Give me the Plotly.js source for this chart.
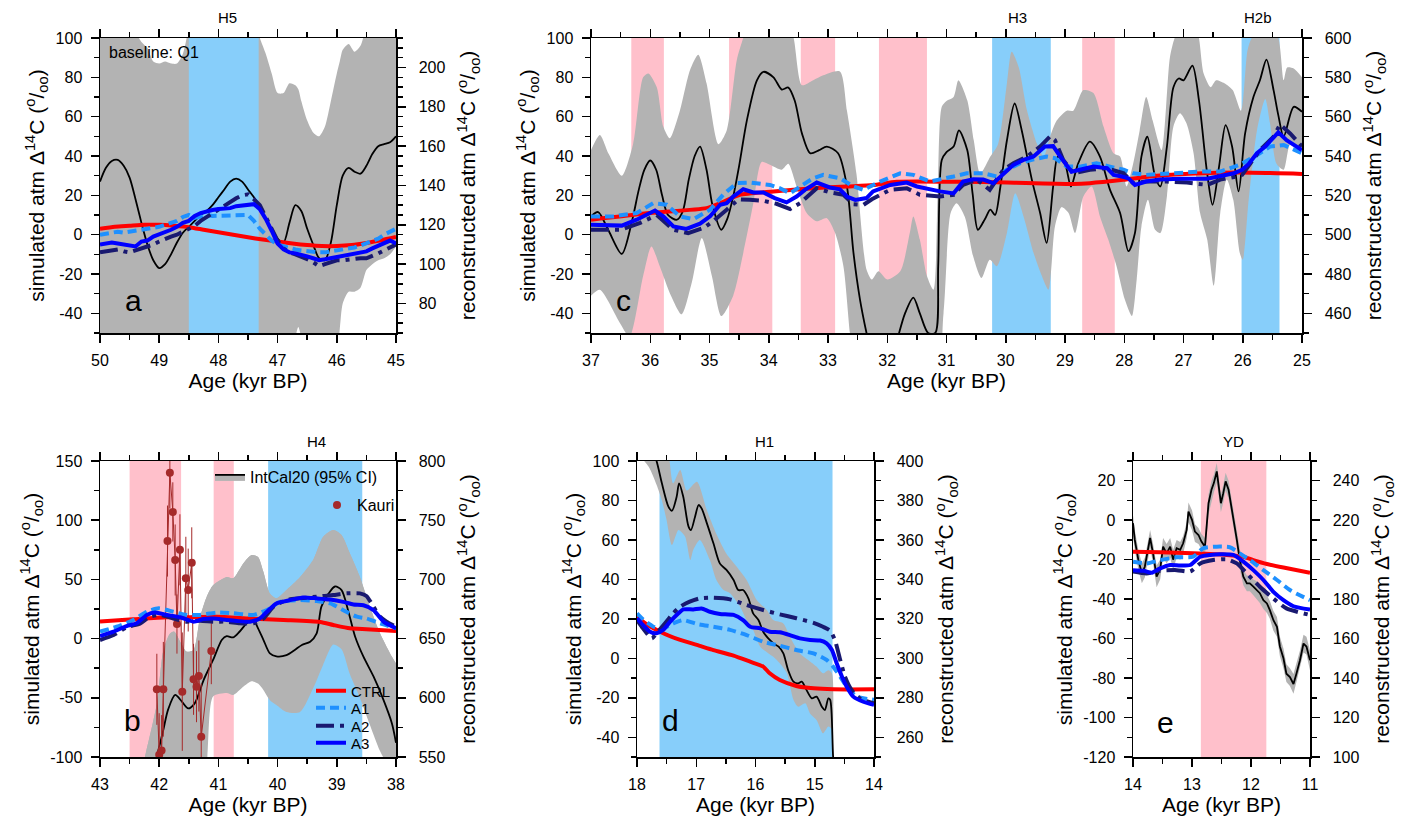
<!DOCTYPE html>
<html><head><meta charset="utf-8">
<script src="https://cdn.plot.ly/plotly-3.0.1.min.js"></script>
<style>html,body{margin:0;padding:0;background:#fff;}#chart{width:1407px;height:823px;}</style>
</head><body><div id="chart"></div>
<script>
// ---------------- DATA ----------------
// Panel a (H5) : IntCal20 in reconstructed units, simulations in simulated units
const aAgeIC = [50.0,49.9,49.8,49.7,49.6,49.5,49.4,49.3,49.2,49.1,49.0,48.9,48.8,48.7,48.6,48.5,48.4,48.3,48.2,48.1,48.0,47.9,47.8,47.7,47.6,47.5,47.4,47.3,47.2,47.1,47.0,46.9,46.8,46.7,46.6,46.5,46.4,46.3,46.2,46.1,46.0,45.9,45.8,45.7,45.6,45.5,45.4,45.3,45.2,45.1,45.0];
const aIC = [142,149,152.5,153,150,144,133,121,110,102,98,100,105,111,116,119,122,125,127,130,134,138,142,143.5,142,138,134,129,123,118,113,111,121,130,127,118,110,103,102,111,130,145,149,147,146,150,156,160,161,162,165];
const aBandAge = [50,49.8,49.7,49.6,49.5,49.4,49.3,49.2,49.1,49.0,48.9,48.8,48.7,48.6,48.5,48.4,48.0,47.6,47.5,47.4,47.3,47.2,47.1,47.0,46.9,46.8,46.7,46.65,46.6,46.5,46.4,46.3,46.2,46.1,46.0,45.95,45.9,45.8,45.7,45.6,45.5,45.4,45.3,45.2,45.1,45.0];
const aBandHi = [240,240,237,230,223,218,213,210,203,202,203,202,202,207,220,230,235,233,230,225,215,207,197,187,187,192,191,189,183,173,167,165,170,183,197,203,209,212,208,211,221,227,230,233,235,237];
const aBandLo = [55,55,55,55,55,55,55,55,55,55,55,55,55,55,55,55,55,55,55,55,55,55,55,55,55,55,63,68,63,55,55,55,55,55,55,67,80,86,86,88,97,100,102,103,105,109];
const aAgeSim = [50.0,49.9,49.8,49.7,49.6,49.5,49.4,49.3,49.2,49.1,49.0,48.9,48.8,48.7,48.6,48.5,48.4,48.3,48.2,48.1,48.0,47.9,47.8,47.7,47.6,47.5,47.4,47.3,47.2,47.1,47.0,46.9,46.8,46.7,46.6,46.5,46.4,46.3,46.2,46.1,46.0,45.9,45.8,45.7,45.6,45.5,45.4,45.3,45.2,45.1,45.0];
const aA1 = [0,0.5,1.5,1.5,1,1.5,2,2,3,3.5,4,5,6,7,9,10,8.5,9,10,9.5,9.5,9.5,9.5,9.5,10,10,7,3,0,-3,-5,-6,-7,-7.5,-8,-8.5,-9,-9,-9,-8.5,-8.5,-8,-7.5,-6.5,-5.5,-4.5,-3,-2,0,1.5,3];
const aA2 = [-9,-8.5,-7.5,-7.5,-8.5,-9,-8,-7,-6.5,-5,-3.5,-2,-1,0,1.5,2.5,4.5,7,9,10.5,12.5,14.5,16.5,18.5,20,20.5,18,15,9,3,-3,-7,-9,-10,-11,-12.5,-14,-16,-15,-14,-13,-13,-12.5,-12.5,-12,-12,-11,-9.5,-8,-6.5,-5];
const aA3 = [-5,-4.5,-4,-4.5,-5,-5.5,-6,-3.5,-3,-1,0,1,2.5,4,6,7,9.5,11,12,12.5,13,13,13.5,14.5,15,15.3,15.5,13,8,2,-4.5,-7.5,-9,-9.5,-10,-11,-12,-13,-12.5,-12,-11,-10.5,-10,-10,-9.5,-8.5,-7,-5.5,-4,-3,-4.5];
const aAgeCtrl = [50,49.75,49.5,49.25,49,48.75,48.5,48.25,48,47.75,47.5,47.25,47,46.75,46.5,46.25,46,45.75,45.5,45.25,45];
const aCtrl = [3,4,4.5,5,5,4.5,3.8,2.5,1.2,0,-1.3,-2.5,-3.5,-4.5,-5.3,-5.8,-5.8,-5.3,-4.2,-2.8,-1.2];
const aBlue = [[48.5, 47.32]];

// Panel c (H3, H2b)
const cAgeIC = [37.0,36.88,36.71,36.48,36.3,36.2,36.1,36.0,35.9,35.8,35.7,35.55,35.45,35.35,35.25,35.16,35.05,34.95,34.8,34.7,34.6,34.5,34.37,34.2,34.09,33.92,33.78,33.67,33.56,33.44,33.3,33.15,33.02,32.83,32.68,32.57,32.46,32.35,32.2,32.0,31.8,31.7,31.56,31.45,31.31,31.19,31.14,31.08,31.0,30.88,30.79,30.65,30.56,30.47,30.35,30.26,30.18,30.09,29.98,29.85,29.73,29.56,29.42,29.31,29.2,29.12,29.0,28.9,28.78,28.58,28.41,28.24,28.07,27.93,27.82,27.71,27.61,27.48,27.39,27.28,27.17,27.08,27.0,26.85,26.74,26.6,26.51,26.4,26.29,26.18,26.07,25.96,25.82,25.71,25.6,25.48,25.4,25.31,25.14,25.0];
const cIC = [509.3,511.5,502.5,490.2,508,522,533,537.7,533,520,510,507.6,512,528,540,544.8,533,515,502.5,508,519.4,535,558,578.5,582.8,580,573.8,574.8,568,551.5,541.4,543,544.8,541.4,524.5,490.7,467,450,430,425,450,460,468,460,450,450,484,538,542,544.8,553,543,521,502.5,508,512.7,510,524.5,548,566.7,553,528,511,495.8,524.5,539.7,536,524.5,536,547.3,539.7,522.8,511,491.6,500.8,539.7,549.8,529.6,524.5,544.8,575,579.4,578.5,586,568.4,531,515.2,534.6,555.7,544.8,522,551.5,570,578.5,589,573.5,560.8,549.8,565,562.5];
const cAgeHi = [37.0,36.85,36.7,36.48,36.29,36.12,36.03,35.89,35.78,35.67,35.5,35.33,35.19,35.05,34.85,34.71,34.54,34.43,34.3,33.7,33.58,33.44,33.25,33.08,32.8,32.68,32.52,32.35,32.26,32.15,32.0,31.78,31.62,31.56,31.45,31.33,31.22,31.15,31.08,31.0,30.88,30.8,30.65,30.54,30.43,30.26,30.13,29.98,29.9,29.78,29.64,29.47,29.36,29.25,29.14,28.97,28.86,28.69,28.52,28.35,28.18,28.07,27.96,27.85,27.74,27.63,27.52,27.37,27.23,27.15,27.0,26.8,26.74,26.66,26.54,26.45,26.31,26.17,26.03,25.92,25.85,25.6,25.4,25.31,25.25,25.14,25.0];
const cHi = [543,550.7,541,530,546,580,582,575,555,549,563,583.6,591.5,577,546,553,588.7,600,610,610,600,576,578.5,581,583,563,531,482.3,477.2,481.4,477.2,481.4,500.8,509.3,497.5,479,472,520,565,568,570,578.5,568.4,548,531,539.7,546,577,593,585,563,546,539.7,550,558,563,563,573.5,572,555,541.4,539.7,524.5,536,553,570,558,543,590,600,610,605,600,582,575,578.5,577,573.5,563,593.7,600,610,600,578.5,585,584.5,580];
const cAgeLo = [37.0,36.85,36.51,36.35,36.12,35.98,35.84,35.65,35.47,35.3,35.13,34.96,34.8,34.6,34.43,34.26,34.12,33.98,33.78,33.67,33.53,33.36,33.19,33.02,32.88,32.74,32.63,32.55,31.2,31.05,30.93,30.83,30.69,30.55,30.41,30.27,30.15,29.98,29.84,29.7,29.53,29.39,29.28,29.17,29.06,28.94,28.83,28.69,28.55,28.41,28.27,28.13,27.99,27.87,27.79,27.71,27.6,27.48,27.39,27.28,27.17,27.06,26.95,26.83,26.72,26.6,26.49,26.38,26.27,26.16,26.05,26.0,25.9,25.76,25.62,25.54,25.43,25.31,25.2,25.09,25.0];
const cLo = [469,472,455,448,479,494,484,469,459.5,475.5,498.3,479,458.6,469,490.7,516,537,535.5,533,536,524.5,511,506.8,508.4,500.8,484,450,430,430,460,511,516,509,489,478,487.3,484,500.8,521,509.3,490.7,479,472,504.2,514,511,500.8,519.4,524.5,509.3,497.5,484,467,458.6,477.2,504.2,517.7,502.5,500.8,519.4,555,561.7,556.6,541.4,511,497.5,474,511,528,517.7,490.7,487.3,517.7,553,569,556.6,536,533,546,544.8,543];
const cAgeCtrl = [37,36,35.05,34.82,34.49,33.92,33.25,32.68,32.24,31.84,30.77,29.98,28.86,28.58,28.02,27.45,26.89,26.05,25.0];
const cCtrl = [7.6,11,13.5,16,20.3,22,23.6,24.5,25.2,26.9,26.9,26.5,25.8,26.2,27.9,30,31,31.6,30.9];
const cAgeA1 = [37,36.62,36.23,35.95,35.72,35.5,35.27,34.99,34.77,34.54,34.32,33.98,33.81,33.64,33.47,33.25,33.08,32.8,32.57,32.4,32.12,31.78,31.56,31.28,30.88,30.66,30.38,30.15,29.98,29.76,29.53,29.31,29.17,28.97,28.75,28.47,28.24,28.01,27.85,27.63,27.17,26.72,26.38,26.05,25.76,25.54,25.31,25.0];
const cA1 = [9.3,9.3,11,16,15.2,9.3,7.9,12.7,20.3,26.2,26.5,25.3,23.6,21,24.5,28.7,30.4,28.7,24.5,22.8,27,31.2,30.4,27,29.6,31.2,31.2,29.6,33,36.3,38.3,39.7,38.9,34.6,34.6,36.3,34.6,33,31.2,30.4,31.2,32.1,32.1,35.5,40.5,44.8,45.6,41.4];
const cAgeA2 = [37,36.5,36.17,35.89,35.61,35.36,35.1,34.94,34.71,34.51,34.32,34.09,33.87,33.64,33.47,33.3,33.19,32.97,32.74,32.57,32.4,32.26,31.95,31.67,31.45,31.11,30.88,30.72,30.49,30.27,30.04,29.87,29.64,29.42,29.25,29.17,29.03,28.86,28.58,28.3,28.01,27.85,27.63,27.28,26.94,26.6,26.38,26.1,26.01,25.87,25.71,25.48,25.37,25.2,25.0];
const cA2 = [2.5,2.5,6,10,2.5,0.8,3.4,6.8,12.7,18,17.7,17.2,15.7,13,16,21,23.6,21.5,20.3,15.5,15.2,18,22.8,23.6,20.3,19.4,20.3,25.3,28,22.8,33,36.3,39.7,44.8,50,48,38,31.2,33,33.8,31.2,26.2,27,27,26.5,25.3,28,29.6,30.4,36.3,43,49.8,56,51.5,44.8];
const cAgeA3 = [37,36.48,36.23,35.92,35.78,35.61,35.39,35.16,34.99,34.82,34.71,34.6,34.43,34.26,34.09,33.9,33.7,33.53,33.39,33.19,32.97,32.8,32.68,32.54,32.35,32.24,31.95,31.67,31.5,31.28,31.11,30.88,30.72,30.55,30.38,30.21,30.04,29.87,29.7,29.53,29.34,29.2,29.08,28.89,28.75,28.63,28.52,28.29,28.18,28.04,27.93,27.82,27.63,27.39,27.06,26.6,26.43,26.15,26.01,25.9,25.76,25.62,25.4,25.26,25.0];
const cA3 = [5,4.6,7.6,12.3,9.3,4.2,2.9,5.6,9.3,15.2,16,19.4,23.1,21.5,21.5,18.6,16.4,19.4,22.8,26.5,24,23.1,19.4,17.7,18.6,22,25.3,26.5,24.5,22.8,22,21,27,28.2,28,26.2,31.2,35.5,38,39.7,44.8,45,39.7,32,33,33.8,34.6,33.8,30.4,29.6,28.7,25.3,27,28,28.4,28.4,29.6,31.2,33,36,41.4,44.8,52,48,43];
const cPink = [[36.32,35.77],[34.67,33.94],[33.46,32.88],[32.14,31.33],[28.71,28.16]];
const cBlue = [[30.23,29.24],[26.02,25.38]];

// Panel b (H4)
const bAgeIC = [42.1,42.04,41.93,41.85,41.73,41.62,41.51,41.4,41.25,41.09,40.94,40.86,40.75,40.64,40.52,40.41,40.33,40.24,40.13,40.02,39.85,39.71,39.59,39.45,39.34,39.26,39.14,39.03,38.92,38.81,38.69,38.55,38.38,38.21,38.07,38.0];
const bIC = [535,550,573,590,602.4,597,591,595.3,615,632,649,652,651,656,663,665.7,658.7,649,637.5,635,636,640.4,644.6,647.4,654.5,677,688,694,691,674,651.6,634.7,618,598,578.5,562];
const bBandAge = [42.3,42.24,42.04,41.93,41.82,41.75,41.62,41.54,41.42,41.31,41.2,41.09,40.86,40.75,40.58,40.44,40.33,40.24,40.13,40.02,39.85,39.62,39.4,39.23,39.06,38.92,38.78,38.61,38.44,38.27,38.1,38.0];
const bHi = [535,550,595,640,654,656,645,639,640.4,668,685,695,702,701,713.5,720.6,719,706.5,688,684,691,702,716.4,736,741.7,737.5,722,702,677,654.5,637.5,629];
const bLo = [530,530,530,530,530,530,530,530,530,530,545,601,604,602.4,609.4,614,612,606.6,598,594,588,588,608,628,645,641,620,600,577,555,540,535];
const kauriAge = [42.04,42.0,41.96,41.93,41.86,41.82,41.77,41.73,41.7,41.65,41.61,41.55,41.51,41.45,41.42,41.37,41.33,41.29,41.12];
const kauriD14C = [607.2,552,555.4,607.2,732.4,790,757,716.4,662.3,725,605.2,701,691,714,615.6,609.4,618.4,567,639.5];
const kauriErr = [30,35,30,40,30,30,25,30,25,30,50,35,35,30,30,30,30,45,28];
const bAgeCtrl = [43,42.44,41.87,41.54,41.03,40.47,39.9,39.28,39.06,38.78,38.5,38.0];
const bCtrl = [14.5,16.3,18,18,18.5,17,15.7,14,11.5,8.7,7.9,6.5];
const bAgeA1 = [43,42.72,42.44,42.21,42.01,41.76,41.54,41.31,41.03,40.75,40.41,40.18,39.96,39.62,39.34,39.11,38.89,38.66,38.5,38.27,38.0];
const bA1 = [5.9,10,15.7,22.7,25.6,22.7,20,20,22,21.4,20,24.2,31,32.5,31.7,29.7,24,18.5,17,12.9,8.7];
const bAgeA2 = [43,42.77,42.55,42.32,42.16,41.99,41.76,41.54,41.31,41.09,40.86,40.64,40.41,40.24,40.07,39.85,39.62,39.34,39.06,38.83,38.61,38.5,38.38,38.27,38.16,38.0];
const bA2 = [-1.2,3,9.5,12.9,18.5,20,17,14.3,15.1,14.3,14.3,12.9,12.9,17,27,32.5,34,35.4,36.8,38.2,38.2,36,27,18.5,14.3,10];
const bAgeA3 = [43,42.77,42.55,42.38,42.21,42.07,41.87,41.65,41.42,41.25,41.09,40.86,40.69,40.47,40.3,40.18,40.02,39.79,39.57,39.34,39.11,38.89,38.72,38.55,38.38,38.21,38.0];
const bA3 = [2.2,5.9,10.6,12.9,20,22,20,18,14.3,16.6,17,15.7,14.9,14.3,17,22.7,29.7,32.5,34.8,34,33,31,28.8,28.2,24,14.3,8.7];
const bPink = [[42.5,41.63],[41.08,40.74]];
const bBlue = [[40.16,38.57]];

// Panel d (H1)
const dAgeIC = [18.0,17.85,17.67,17.58,17.47,17.41,17.33,17.29,17.22,17.13,17.09,17.02,16.96,16.91,16.82,16.71,16.6,16.49,16.37,16.29,16.21,16.12,16.04,15.95,15.87,15.76,15.7,15.61,15.53,15.45,15.36,15.28,15.22,15.14,15.05,14.97,14.88,14.83,14.77,14.74,14.69,14.6];
const dIC = [435,415,400,388.7,376.9,374.8,382,388.7,382,366.7,365,371.8,377.7,376,368.4,358.3,348,344.8,339.7,334.6,334.6,330.4,322.8,319.4,313.5,309.3,307.6,305.9,302.5,294.1,288.2,287.3,288.2,284,279.7,280.6,275.5,273.8,279.7,279,250,210];
const dAgeHi = [18.0,17.5,17.45,17.39,17.27,17.16,16.99,16.82,16.66,16.49,16.32,16.15,15.98,15.81,15.7,15.53,15.42,15.25,15.11,14.97,14.86,14.77,14.71,14.69,14.6];
const dHi = [440,410,400,388.7,395.4,385,389.5,375,363,353,346.5,339.7,329.6,324.5,319.4,317.7,311,302.5,299.2,295.8,292.4,294,292.4,250,210];
const dAgeLo = [18.0,17.8,17.67,17.58,17.5,17.41,17.3,17.19,17.1,17.05,16.94,16.77,16.66,16.54,16.43,16.26,16.15,16.04,15.92,15.78,15.7,15.59,15.47,15.36,15.28,15.16,15.08,14.97,14.86,14.77,14.71,14.69,14.6];
const dLo = [404,397,388,380,370,357.4,365,361.7,349.8,355,360,349.8,339.7,334.6,333,326.2,319.4,314.4,305.9,302.5,300.8,297.5,292.4,279,275.5,277.2,272.1,268.8,262,265.4,264,240,200];
const dAgeCtrl = [18,17.9,17.61,17.27,16.99,16.71,16.37,16.09,15.87,15.76,15.59,15.31,15.02,14.69,14.0];
const dCtrl = [22,18.6,13.5,9.3,6.8,4.2,1.4,-1.7,-4.2,-7.6,-11,-14,-15.2,-15.7,-15.7];
const dAgeA1 = [18,17.9,17.72,17.56,17.39,17.22,16.99,16.71,16.43,16.15,15.87,15.59,15.31,15.02,14.8,14.69,14.57,14.46,14.29,14.0];
const dA1 = [22.8,19.8,16,15.2,17.7,19.4,17.4,16,14.4,11.8,8.4,6.4,4.2,2.5,-0.8,-4.2,-9.3,-14.4,-19.4,-21];
const dAgeA2 = [18,17.9,17.75,17.67,17.53,17.39,17.27,17.11,16.94,16.71,16.43,16.15,15.87,15.59,15.31,15.02,14.86,14.74,14.66,14.57,14.49,14.38,14.24,14.0];
const dA2 = [19.4,15.2,10.1,12.7,17.7,22.8,26.2,28.7,30.4,30.7,29.9,27,24.5,22.3,20.3,18,16,14,9.3,-0.8,-9.3,-16,-20.3,-22.8];
const dAgeA3 = [18,17.9,17.78,17.67,17.56,17.44,17.3,17.22,17.05,16.91,16.77,16.6,16.37,16.21,16.09,15.92,15.76,15.59,15.42,15.25,15.08,14.91,14.8,14.71,14.63,14.54,14.46,14.35,14.18,14.0];
const dA3 = [20.3,16.9,13.5,12.7,14.4,18.6,22.8,24.8,24.8,25.3,23.6,22.5,22,19.4,16,15.2,13.5,13.2,11.8,10.1,9.3,9,7.6,4.2,-2.5,-9.3,-14.4,-19.4,-22,-23.6];
const dBlue = [[17.62,14.7]];

// Panel e (YD)
const eAgeIC = [14.0,13.97,13.91,13.85,13.8,13.71,13.66,13.6,13.54,13.49,13.43,13.37,13.32,13.26,13.2,13.15,13.09,13.06,13.0,12.95,12.89,12.84,12.78,12.72,12.67,12.63,12.58,12.55,12.51,12.47,12.43,12.38,12.33,12.29,12.24,12.19,12.13,12.07,12.02,11.96,11.9,11.85,11.79,11.73,11.68,11.62,11.56,11.51,11.45,11.4,11.34,11.28,11.23,11.17,11.11,11.06,11.0];
const eIC = [218.5,210,200,193,196.4,211,203.2,191.4,195,206.6,203.2,206.6,200,205.8,205,208.3,215.1,224.4,220.2,214.2,212.5,209.2,206.6,228.6,235.4,238.8,244.7,237,228.6,233.7,239.7,235.4,226.9,220.2,210,199.8,191.4,188,188,186.3,184.6,183,179.5,177.8,174.4,169.3,166,156,150,142.2,140.5,137,142.2,149,157.5,156,149];
const eHi = [222.5,215,205,198,201,215,208,197,200,211,208,211,205,210,209,212,219,229,225,218,216,213,211,233,240,243,249,242,233,238,244,240,231,224,214,204,195,192,192,190,189,187,184,182,179,174,171,161,155,147,145,142,147,154,162,161,154];
const eLo = [212,205,195,188,191,206,198,186,190,201,198,201,195,201,200,203,211,219,215,209,208,205,202,223,230,234,239,232,224,229,235,231,222,216,206,195,187,184,184,182,180,178,175,173,170,164,161,151,145,138,136,132,138,145,153,152,144];
const eAgeCtrl = [14,13.54,12.98,12.41,12.13,11.96,11.73,11.45,11.0];
const eCtrl = [-16,-16.3,-16.8,-17.6,-18.5,-20.2,-22.2,-24,-26.6];
const eAgeA1 = [14,13.77,13.54,13.26,12.98,12.81,12.58,12.36,12.19,12.02,11.79,11.56,11.34,11.0];
const eA1 = [-21,-21.9,-20.2,-18.8,-18.5,-14.2,-13.4,-13.7,-16.8,-20.2,-25.3,-30.3,-35.4,-40.5];
const eAgeA2 = [14,13.77,13.54,13.26,13.03,12.86,12.64,12.41,12.24,12.07,11.85,11.62,11.4,11.0];
const eA2 = [-26,-27,-25.6,-25.3,-26,-21.9,-20.2,-19.8,-21.9,-27,-33.7,-39.7,-44.7,-48];
const eAgeA3 = [14,13.82,13.68,13.54,13.37,13.2,13.03,12.86,12.69,12.53,12.3,12.13,11.96,11.79,11.62,11.45,11.28,11.0];
const eA3 = [-25.3,-25.6,-26.6,-24.4,-22.7,-23,-22.7,-18.5,-17.6,-17.3,-17.6,-21,-25.3,-30.3,-36.3,-40.5,-43.6,-45.3];
const ePink = [[12.85,11.74]];

// Axis tick labels
const aX = [50,49,48,47,46,45], aLeft = [-40,-20,0,20,40,60,80,100], aRight = [80,100,120,140,160,180,200];
const cX = [37,36,35,34,33,32,31,30,29,28,27,26,25], cLeft = [-40,-20,0,20,40,60,80,100], cRight = [460,480,500,520,540,560,580,600];
const bX = [43,42,41,40,39,38], bLeft = [-100,-50,0,50,100,150], bRight = [550,600,650,700,750,800];
const dX = [18,17,16,15,14], dLeft = [-40,-20,0,20,40,60,80,100], dRight = [260,280,300,320,340,360,380,400];
const eX = [14,13,12,11], eLeft = [-120,-100,-80,-60,-40,-20,0,20], eRight = [100,120,140,160,180,200,220,240];
const events = {a:[['H5',47.85]], c:[['H3',29.8],['H2b',25.75]], b:[['H4',39.35]], d:[['H1',15.85]], e:[['YD',12.3]]};

// ---------------- STYLE / LAYOUT ----------------
const W = 1407, H = 823;
const FONT = 'Liberation Sans, Arial, Helvetica, sans-serif';
const GRAY = '#b3b3b3', PINK = '#ffc0cb', SKY = '#87cefa', BROWN = '#a52a2a';
const STY = {
  CTRL:{color:'#ff0000', width:4},
  A1:{color:'#1e90ff', width:4, dash:'9px,5px'},
  A2:{color:'#191970', width:4, dash:'18px,6px,4px,6px'},
  A3:{color:'#0000ff', width:4}
};
const YL = 'simulated atm \u0394<sup>14</sup>C (<sup>o</sup>/<sub>oo</sub>)';
const YR = 'reconstructed atm \u0394<sup>14</sup>C (<sup>o</sup>/<sub>oo</sub>)';
const FULL = [0, 1];
const px = v => v / W, py = v => 1 - v / H;
const ROW0 = [py(333), py(38)], ROW1 = [py(757), py(461)];

function xax(l, r, range, tv, anchor) {
  return {domain:[px(l), px(r)], range:range, autorange:false, anchor:anchor,
    tickmode:'array', tickvals:tv, ticktext:tv.map(String),
    ticks:'outside', ticklen:8, tickwidth:1.5, tickcolor:'#000', ticklabelstandoff:4,
    minor:{ticks:'outside', ticklen:5, tickwidth:1.5, tickcolor:'#000', tickmode:'linear', dtick:0.5, tick0:0, showgrid:false},
    showline:true, linewidth:1.5, linecolor:'#000', mirror:'ticks', showgrid:false, zeroline:false,
    tickfont:{size:16, family:FONT, color:'#000'},
    title:{text:'Age (kyr BP)', font:{size:21, family:FONT, color:'#000'}, standoff:5}};
}
function yax(row, range, tv, mdt, side, title, anchor, extra) {
  const left = side === 'left';
  return Object.assign({domain:row, range:range, autorange:false, side:side, anchor:anchor,
    tickmode:'array', tickvals:tv, ticktext:tv.map(String),
    ticks:'outside', ticklen:8, tickwidth:1.5, tickcolor:'#000', ticklabelstandoff:left ? 5 : 10,
    minor:{ticks:'outside', ticklen:5, tickwidth:1.5, tickcolor:'#000', tickmode:'linear', dtick:mdt, tick0:0, showgrid:false},
    showline:true, linewidth:1.5, linecolor:'#000', showgrid:false, zeroline:false,
    tickfont:{size:16, family:FONT, color:'#000'},
    title:{text:title, font:{size:21, family:FONT, color:'#000'}, standoff:left ? 5 : 16}}, extra || {});
}
function hid(over, range, anchor) { return {overlaying:over, visible:false, range:range, autorange:false, anchor:anchor}; }

const traces = [];
function band(x1, lo, x2, hi, xa, ya, shape) {
  traces.push({x:x1, y:lo, xaxis:xa, yaxis:ya, mode:'lines', line:{width:0, color:GRAY, shape:shape, smoothing:0.7}, showlegend:false, hoverinfo:'skip'});
  traces.push({x:x2, y:hi, xaxis:xa, yaxis:ya, mode:'lines', line:{width:0, color:GRAY, shape:shape, smoothing:0.7}, fill:'tonexty', fillcolor:GRAY, showlegend:false, hoverinfo:'skip'});
}
function icLine(x, y, xa, ya, shape, legendOn) {
  const t = {x:x, y:y, xaxis:xa, yaxis:ya, mode:'lines', line:{color:'#000', width:1.8, shape:shape, smoothing:0.8}, showlegend:false, hoverinfo:'skip', name:'IntCal20 (95% CI)'};
  if (legendOn) { t.showlegend = true; t.legend = 'legend'; t.fill = 'tonexty'; t.fillcolor = GRAY; }
  traces.push(t);
}
function sim(name, x, y, xa, ya, shape, legendName) {
  const t = {x:x, y:y, xaxis:xa, yaxis:ya, mode:'lines', name:name, line:Object.assign({shape:shape, smoothing:0.6}, STY[name]), showlegend:false, hoverinfo:'skip'};
  if (legendName) { t.showlegend = true; t.legend = legendName; }
  traces.push(t);
}
const shapes = [];
function evRects(list, color, xa, ya) {
  list.forEach(p => shapes.push({type:'rect', xref:xa, yref:ya + ' domain', x0:p[0], x1:p[1], y0:FULL[0], y1:FULL[1], fillcolor:color, line:{width:0}, layer:'below'}));
}

// ---- Panel a ----
band(aBandAge, aBandLo, aBandAge, aBandHi, 'x', 'y', 'spline');
aBlue.forEach(p => traces.push({x:[p[0],p[0],p[1],p[1],p[0]], y:[FULL[0],FULL[1],FULL[1],FULL[0],FULL[0]], xaxis:'x', yaxis:'y2', mode:'lines', fill:'toself', fillcolor:SKY, line:{width:0}, showlegend:false, hoverinfo:'skip'}));
icLine(aAgeIC, aIC, 'x', 'y3', 'spline');
sim('CTRL', aAgeCtrl, aCtrl, 'x', 'y4', 'spline');
sim('A1', aAgeSim, aA1, 'x', 'y4', 'linear');
sim('A2', aAgeSim, aA2, 'x', 'y4', 'linear');
sim('A3', aAgeSim, aA3, 'x', 'y4', 'linear');

// ---- Panel c ----
evRects(cPink, PINK, 'x2', 'y5'); evRects(cBlue, SKY, 'x2', 'y5');
band(cAgeLo, cLo, cAgeHi, cHi, 'x2', 'y5', 'spline');
icLine(cAgeIC, cIC, 'x2', 'y5', 'spline');
sim('CTRL', cAgeCtrl, cCtrl, 'x2', 'y6', 'spline');
sim('A1', cAgeA1, cA1, 'x2', 'y6', 'linear');
sim('A2', cAgeA2, cA2, 'x2', 'y6', 'linear');
sim('A3', cAgeA3, cA3, 'x2', 'y6', 'linear');

// ---- Panel b ----
evRects(bPink, PINK, 'x3', 'y7'); evRects(bBlue, SKY, 'x3', 'y7');
band(bBandAge, bLo, bBandAge, bHi, 'x3', 'y7', 'spline');
icLine(bAgeIC, bIC, 'x3', 'y7', 'spline', true);
traces.push({x:kauriAge, y:kauriD14C, xaxis:'x3', yaxis:'y7', mode:'lines', line:{color:BROWN, width:1},
  error_y:{type:'data', array:kauriErr, visible:true, color:BROWN, thickness:1, width:0}, showlegend:false, hoverinfo:'skip'});
traces.push({x:kauriAge, y:kauriD14C, xaxis:'x3', yaxis:'y7', mode:'markers', name:'Kauri', marker:{color:BROWN, size:8}, legend:'legend2', hoverinfo:'skip'});
sim('CTRL', bAgeCtrl, bCtrl, 'x3', 'y8', 'spline', 'legend3');
sim('A1', bAgeA1, bA1, 'x3', 'y8', 'spline', 'legend4');
sim('A2', bAgeA2, bA2, 'x3', 'y8', 'spline', 'legend5');
sim('A3', bAgeA3, bA3, 'x3', 'y8', 'spline', 'legend6');

// ---- Panel d ----
evRects(dBlue, SKY, 'x4', 'y9');
band(dAgeLo, dLo, dAgeHi, dHi, 'x4', 'y9', 'spline');
icLine(dAgeIC, dIC, 'x4', 'y9', 'spline');
sim('CTRL', dAgeCtrl, dCtrl, 'x4', 'y10', 'spline');
sim('A1', dAgeA1, dA1, 'x4', 'y10', 'spline');
sim('A2', dAgeA2, dA2, 'x4', 'y10', 'spline');
sim('A3', dAgeA3, dA3, 'x4', 'y10', 'spline');

// ---- Panel e ----
evRects(ePink, PINK, 'x5', 'y11');
band(eAgeIC, eLo, eAgeIC, eHi, 'x5', 'y11', 'linear');
icLine(eAgeIC, eIC, 'x5', 'y11', 'linear');
sim('CTRL', eAgeCtrl, eCtrl, 'x5', 'y12', 'spline');
sim('A1', eAgeA1, eA1, 'x5', 'y12', 'spline');
sim('A2', eAgeA2, eA2, 'x5', 'y12', 'spline');
sim('A3', eAgeA3, eA3, 'x5', 'y12', 'spline');

// ---- annotations ----
const annotations = [];
function note(text, x, y, size, xref, yref, xanchor) {
  annotations.push({text:text, x:x, y:y, xref:xref || 'paper', yref:yref || 'paper', xanchor:xanchor || 'center', yanchor:'middle', showarrow:false, font:{size:size, family:FONT, color:'#000'}});
}
[['a',133,300],['c',623,300],['b',132,720],['d',670,720],['e',1165,722]].forEach(l => note(l[0], px(l[1]), py(l[2]), 30));
note('baseline: Q1', px(107), py(53), 16, 'paper', 'paper', 'left');
events.a.forEach(e => note(e[0], e[1], py(17), 15, 'x'));
events.c.forEach(e => note(e[0], e[1], py(17), 15, 'x2'));
events.b.forEach(e => note(e[0], e[1], py(441), 15, 'x3'));
events.d.forEach(e => note(e[0], e[1], py(441), 15, 'x4'));
events.e.forEach(e => note(e[0], e[1], py(441), 15, 'x5'));

function leg(xp, yp, size) {
  return {x:px(xp), y:py(yp), xanchor:'left', yanchor:'middle', bgcolor:'rgba(0,0,0,0)', borderwidth:0,
    font:{size:size, family:FONT, color:'#000'}, itemclick:false, itemdoubleclick:false};
}

const layout = {
  width:W, height:H, margin:{l:0, r:0, t:0, b:0}, paper_bgcolor:'#fff', plot_bgcolor:'#fff',
  font:{family:FONT, color:'#000', size:16}, showlegend:true,
  xaxis:xax(100, 396, [50,45], aX, 'y'),
  yaxis:yax(ROW0, [65,215], aRight, 5, 'right', YR, 'x'),
  yaxis2:hid('y', FULL, 'x'),
  yaxis3:hid('y', [65,215], 'x'),
  yaxis4:yax(ROW0, [-50,100], aLeft, 10, 'left', YL, 'x', {overlaying:'y'}),
  xaxis2:xax(591, 1302, [37,25], cX, 'y5'),
  yaxis5:yax(ROW0, [450,600], cRight, 10, 'right', YR, 'x2'),
  yaxis6:yax(ROW0, [-50,100], cLeft, 10, 'left', YL, 'x2', {overlaying:'y5'}),
  xaxis3:xax(100, 396, [43,38], bX, 'y7'),
  yaxis7:yax(ROW1, [550,800], bRight, 25, 'right', YR, 'x3'),
  yaxis8:yax(ROW1, [-100,150], bLeft, 25, 'left', YL, 'x3', {overlaying:'y7'}),
  xaxis4:xax(637, 874, [18,14], dX, 'y9'),
  yaxis9:yax(ROW1, [250,400], dRight, 10, 'right', YR, 'x4'),
  yaxis10:yax(ROW1, [-50,100], dLeft, 10, 'left', YL, 'x4', {overlaying:'y9'}),
  xaxis5:xax(1133, 1310, [14,11], eX, 'y11'),
  yaxis11:yax(ROW1, [100,250], eRight, 10, 'right', YR, 'x5'),
  yaxis12:yax(ROW1, [-120,30], eLeft, 10, 'left', YL, 'x5', {overlaying:'y11'}),
  legend:leg(210, 477, 16),
  legend2:leg(317, 505, 16),
  legend3:leg(311, 691, 15),
  legend4:leg(311, 708, 15),
  legend5:leg(311, 726, 15),
  legend6:leg(311, 743, 15),
  shapes:shapes,
  annotations:annotations
};

Plotly.newPlot('chart', traces, layout, {displayModeBar:false, staticPlot:true});
</script></body></html>
